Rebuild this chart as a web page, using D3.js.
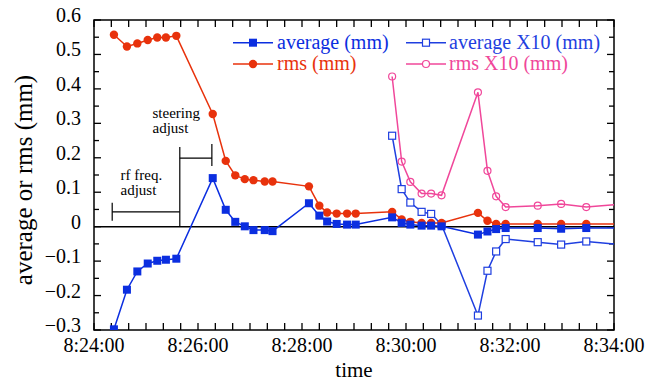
<!DOCTYPE html>
<html lang="en">
<head>
  <meta charset="UTF-8" />
  <title>average / rms vs time</title>
  <style>
    body { margin: 0; background: #fff; }
    svg text { font-family: 'Liberation Serif', 'DejaVu Serif', 'Times New Roman', Times, serif; }
    .line { fill: none; stroke-width: 1.5px; }
  </style>
  <script src="https://d3js.org/d3.v7.min.js"></script>
</head>
<body>
  <svg id="chart" width="660" height="381"></svg>
  <script>
    // ---------- data ----------
    const times = ["8:24:23","8:24:38","8:24:50","8:25:02","8:25:13","8:25:23","8:25:35",
      "8:26:17","8:26:32","8:26:43","8:26:54","8:27:04","8:27:17","8:27:26",
      "8:28:08","8:28:20","8:28:29","8:28:40","8:28:52","8:29:02",
      "8:29:44","8:29:55","8:30:05","8:30:18","8:30:29","8:30:41",
      "8:31:23","8:31:34","8:31:44","8:31:55","8:32:32","8:32:59","8:33:28","8:34:24"];
    const averageMm = [-0.298,-0.183,-0.130,-0.107,-0.099,-0.096,-0.093,
      0.141,0.049,0.014,0.001,-0.010,-0.010,-0.013,
      0.068,0.032,0.015,0.008,0.006,0.006,
      0.027,0.011,0.006,0.003,0.003,0.001,
      -0.023,-0.014,-0.007,-0.004,-0.004,-0.006,-0.004,-0.004];
    const rmsMm = [0.557,0.523,0.532,0.542,0.549,0.549,0.554,
      0.327,0.191,0.149,0.138,0.135,0.131,0.131,
      0.117,0.061,0.041,0.038,0.038,0.038,
      0.043,0.021,0.014,0.011,0.011,0.011,
      0.040,0.017,0.008,0.008,0.008,0.008,0.008,0.008];

    const timesX10 = ["8:29:44","8:29:55","8:30:05","8:30:18","8:30:29","8:30:41",
      "8:31:23","8:31:34","8:31:44","8:31:55","8:32:32","8:32:59","8:33:28","8:34:24"];
    const averageX10 = [0.264,0.109,0.070,0.043,0.037,0.006,
      -0.258,-0.128,-0.072,-0.036,-0.045,-0.052,-0.043,-0.056];
    const rmsX10 = [0.436,0.189,0.130,0.096,0.096,0.091,
      0.390,0.162,0.088,0.057,0.061,0.066,0.057,0.068];

    const xTickLabels = ["8:24:00","8:26:00","8:28:00","8:30:00","8:32:00","8:34:00"];
    const yTickValues = [-0.3,-0.2,-0.1,0,0.1,0.2,0.3,0.4,0.5,0.6];

    // annotation brackets: [start, end, level]
    const rfBracket = ["8:24:21", "8:25:39", 0.043];
    const steerBracket = ["8:25:39", "8:26:16", 0.199];

    const parse = d3.timeParse("%H:%M:%S");
    const fmt = d3.timeFormat("%-H:%M:%S");

    const svg = d3.select("#chart");
    const pL = 94, pR = 614, pT = 20, pB = 330;

    const x = d3.scaleTime()
      .domain([parse("8:24:00"), parse("8:34:00")])
      .range([pL, pR]);
    const y = d3.scaleLinear().domain([-0.3, 0.6]).range([pB, pT]);

    const colors = { avg: "#0b2ee0", rms: "#e8320c", avg10: "#1f3fe0", rms10: "#f0479a" };

    svg.append("clipPath").attr("id", "plot")
      .append("rect").attr("x", pL).attr("y", pT)
      .attr("width", pR - pL).attr("height", pB - pT);

    // ---------- ticks (inward, all four sides) ----------
    const minorX = d3.timeSecond.every(20).range(parse("8:24:00"), parse("8:34:01"));
    const tickG = svg.append("g").attr("stroke", "#000").attr("stroke-width", 1.3);
    minorX.forEach(t => {
      const len = 7;
      tickG.append("line").attr("x1", x(t)).attr("x2", x(t)).attr("y1", pB).attr("y2", pB - len);
      tickG.append("line").attr("x1", x(t)).attr("x2", x(t)).attr("y1", pT).attr("y2", pT + len);
    });
    d3.range(-0.3, 0.6001, 0.05).forEach(v => {
      const major = Math.abs(Math.round(v * 10) - v * 10) < 1e-6;
      const len = major ? 7 : 5;
      tickG.append("line").attr("x1", pL).attr("x2", pL + len).attr("y1", y(v)).attr("y2", y(v));
      tickG.append("line").attr("x1", pR).attr("x2", pR - len).attr("y1", y(v)).attr("y2", y(v));
    });

    // frame
    svg.append("rect").attr("x", pL).attr("y", pT)
      .attr("width", pR - pL).attr("height", pB - pT)
      .attr("fill", "none").attr("stroke", "#000").attr("stroke-width", 1.5);

    // zero line
    svg.append("line").attr("x1", pL).attr("x2", pR)
      .attr("y1", y(0)).attr("y2", y(0))
      .attr("stroke", "#000").attr("stroke-width", 1.5);

    // tick labels
    svg.append("g").selectAll("text").data(xTickLabels).join("text")
      .attr("x", d => x(parse(d))).attr("y", 352)
      .attr("text-anchor", "middle").attr("font-size", 20)
      .text(d => fmt(parse(d)));
    svg.append("g").selectAll("text").data(yTickValues).join("text")
      .attr("x", 81).attr("y", d => y(d) + 2)
      .attr("text-anchor", "end").attr("font-size", 20)
      .text(d => d === 0 ? "0" : d3.format(".1f")(d));

    // axis titles
    svg.append("text").attr("x", pL + (pR - pL) / 2).attr("y", 377)
      .attr("text-anchor", "middle").attr("font-size", 21).text("time");
    svg.append("text")
      .attr("transform", `translate(32,${(pT + pB) / 2 + 5}) rotate(-90)`)
      .attr("text-anchor", "middle").attr("font-size", 25).text("average or rms (mm)");

    // ---------- annotations ----------
    const ann = svg.append("g").attr("stroke", "#000").attr("stroke-width", 1.2);
    const rx1 = x(parse(rfBracket[0])), rx2 = x(parse(rfBracket[1])), ry = y(rfBracket[2]);
    ann.append("line").attr("x1", rx1).attr("x2", rx2).attr("y1", ry).attr("y2", ry);
    ann.append("line").attr("x1", rx1).attr("x2", rx1).attr("y1", ry - 9).attr("y2", ry + 9);
    const sx1 = x(parse(steerBracket[0])), sx2 = x(parse(steerBracket[1])), sy = y(steerBracket[2]);
    ann.append("line").attr("x1", sx1).attr("x2", sx2).attr("y1", sy).attr("y2", sy);
    ann.append("line").attr("x1", sx2).attr("x2", sx2).attr("y1", sy - 14).attr("y2", sy + 8);
    ann.append("line").attr("x1", sx1).attr("x2", sx1).attr("y1", sy - 11).attr("y2", y(0));

    const annText = svg.append("g").attr("font-size", 15).attr("fill", "#000");
    annText.append("text").attr("x", 152.5).attr("y", 118).text("steering");
    annText.append("text").attr("x", 152.5).attr("y", 133).text("adjust");
    annText.append("text").attr("x", 120.5).attr("y", 180).text("rf freq.");
    annText.append("text").attr("x", 120.5).attr("y", 195).text("adjust");

    // ---------- series ----------
    const main = times.map((t, i) => ({ t: parse(t), avg: averageMm[i], rms: rmsMm[i] }));
    const x10 = timesX10.map((t, i) => ({ t: parse(t), avg: averageX10[i], rms: rmsX10[i] }));

    const plot = svg.append("g").attr("clip-path", "url(#plot)");
    function drawLine(data, key, color) {
      plot.append("path").datum(data).attr("class", "line")
        .attr("stroke", color)
        .attr("d", d3.line().x(d => x(d.t)).y(d => y(d[key])));
    }
    drawLine(x10, "rms", colors.rms10);
    drawLine(x10, "avg", colors.avg10);
    drawLine(main, "rms", colors.rms);
    drawLine(main, "avg", colors.avg);

    const inside = d => d.t <= x.domain()[1];
    function squares(data, key, color, filled, s) {
      plot.append("g").selectAll("rect").data(data.filter(inside)).join("rect")
        .attr("x", d => x(d.t) - s / 2).attr("y", d => y(d[key]) - s / 2)
        .attr("width", s).attr("height", s)
        .attr("fill", filled ? color : "#fff")
        .attr("stroke", color).attr("stroke-width", filled ? 0 : 1.2);
    }
    function circles(data, key, color, filled, r) {
      plot.append("g").selectAll("circle").data(data.filter(inside)).join("circle")
        .attr("cx", d => x(d.t)).attr("cy", d => y(d[key])).attr("r", r)
        .attr("fill", filled ? color : "none")
        .attr("stroke", color).attr("stroke-width", filled ? 0 : 1.2);
    }
    circles(x10, "rms", colors.rms10, false, 3.5);
    squares(x10, "avg", colors.avg10, false, 7);
    circles(main, "rms", colors.rms, true, 4.2);
    squares(main, "avg", colors.avg, true, 8);

    // ---------- legend ----------
    const legendItems = [
      { label: "average (mm)", color: colors.avg, shape: "sq", filled: true, lx: 233, ly: 42.7 },
      { label: "rms (mm)", color: colors.rms, shape: "ci", filled: true, lx: 233, ly: 64 },
      { label: "average X10 (mm)", color: colors.avg10, shape: "sq", filled: false, lx: 406, ly: 42.7 },
      { label: "rms X10 (mm)", color: colors.rms10, shape: "ci", filled: false, lx: 406, ly: 64 }
    ];
    const lg = svg.append("g").selectAll("g").data(legendItems).join("g")
      .attr("transform", d => `translate(${d.lx},${d.ly})`);
    lg.append("line").attr("x1", 0).attr("x2", 40).attr("stroke", d => d.color).attr("stroke-width", 1.5);
    lg.filter(d => d.shape === "sq").append("rect")
      .attr("x", d => d.filled ? 16 : 16.5).attr("y", d => d.filled ? -4 : -3.5)
      .attr("width", d => d.filled ? 8 : 7).attr("height", d => d.filled ? 8 : 7)
      .attr("fill", d => d.filled ? d.color : "#fff")
      .attr("stroke", d => d.color).attr("stroke-width", d => d.filled ? 0 : 1.2);
    lg.filter(d => d.shape === "ci").append("circle")
      .attr("cx", 20).attr("r", d => d.filled ? 4.2 : 3.5)
      .attr("fill", d => d.filled ? d.color : "#fff")
      .attr("stroke", d => d.color).attr("stroke-width", d => d.filled ? 0 : 1.2);
    lg.append("text").attr("x", d => d.filled ? 44 : 43).attr("y", 6)
      .attr("font-size", 20).attr("fill", d => d.color).text(d => d.label);
  </script>
</body>
</html>
